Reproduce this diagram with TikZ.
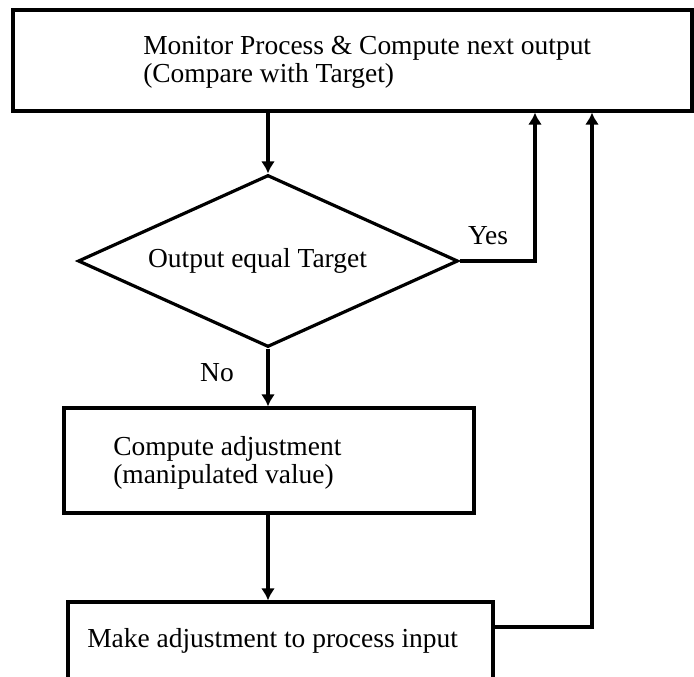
\documentclass[tikz,border=0pt]{standalone}
\usepackage{fontspec}
\setmainfont{Liberation Serif}
\usetikzlibrary{shapes.geometric, arrows.meta, positioning, calc}

\tikzset{
    box/.style={draw, rectangle, line width=2.4pt, inner sep=0pt},
    decision/.style={draw, diamond, line width=2.4pt, inner sep=0pt},
    txt/.style={align=left, inner sep=0pt, font=\fontsize{20.6}{21}\selectfont},
    flow/.style={line width=2.4pt, -{Latex[length=9pt, width=10.5pt]}},
}

\begin{document}
\begin{tikzpicture}[x=0.75pt, y=-0.75pt]
        \useasboundingbox (0,0) rectangle (694,677);
        \clip (0,0) rectangle (694,677);
        \begin{scope}
            \node[box, minimum width=509.25pt, minimum height=75.75pt] (monitor) at (352.5,60.5) {};
            \node[decision, minimum width=285pt, minimum height=129pt] (equal) at (268,261) {};
            \node[box, minimum width=307.5pt, minimum height=78.75pt] (adjust) at (269,460.5) {};
            \node[box, minimum width=318.75pt, minimum height=67.5pt] (make) at (280.5,647) {};

            \node[txt, anchor=west] (monitortext) at (143,62) {Monitor Process \& Compute next output\\(Compare with Target)};
            \node[txt] (equaltext) at (257.5,261) {Output equal Target};
            \node[txt, anchor=west] (adjusttext) at (113,463) {Compute adjustment\\(manipulated value)};
            \node[txt, anchor=west] (maketext) at (87,641) {Make adjustment to process input};
            \node[txt] (yes) at (488,236) {Yes};
            \node[txt] (no) at (217,373) {No};

            \coordinate (yesup) at (535,261);
            \coordinate (back) at (592,627);

            \draw [flow] (monitor.south -| equal.north) -- (equal.north);
            \draw [flow] (equal.east) -- (yesup) -- (yesup |- monitor.south);
            \draw [flow] (equal.south) -- (equal.south |- adjust.north);
            \draw [flow] (adjust.south -| equal.south) -- (equal.south |- make.north);
            \draw [flow] (back -| make.east) -- (back) -- (back |- monitor.south);
        \end{scope}
    \end{tikzpicture}
\end{document}
